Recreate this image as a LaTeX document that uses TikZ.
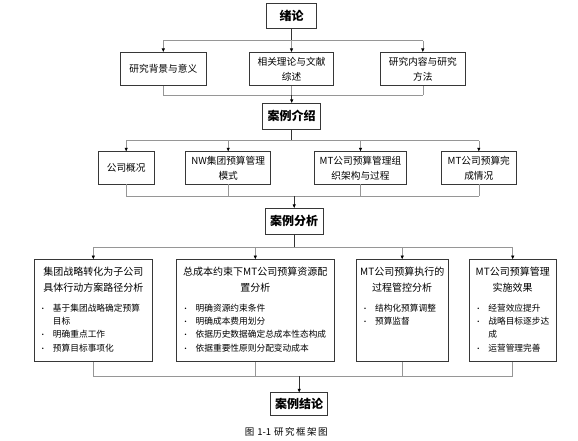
\documentclass[tikz,border=0pt]{standalone}
\usepackage{fontspec}
\setmainfont{Noto Sans CJK SC}
\definecolor{linegray}{RGB}{150,150,150}
\definecolor{boxline}{RGB}{55,55,55}
\usepackage{tikz}
\usetikzlibrary{arrows.meta, calc}

\newcommand{\boxhead}[1]{{\centering\fontsize{10}{15.6}\selectfont #1\par}\vspace{6.5pt}}
\newcommand{\bitem}[1]{{\fontsize{8.7}{13.3}\selectfont\hangindent=15pt\hangafter=1\noindent\makebox[15pt][l]{\hspace{1.5pt}\fontsize{7}{7}\selectfont\textbullet}#1\par}}
\newcommand{\bigtext}[2]{\parbox[t][94pt][t]{#1}{\parskip=0pt\vspace*{4pt}#2}}

\tikzset{
  headbox/.style={draw=boxline, line width=0.8pt, fill=white, inner sep=0pt, minimum height=25.7pt,
    font=\fontsize{12}{14}\selectfont\bfseries},
  subbox/.style={draw=boxline, line width=0.7pt, fill=white, inner sep=0pt, align=center,
    minimum height=33.4pt, font=\fontsize{9.7}{15}\selectfont},
  bigbox/.style={draw=boxline, line width=0.7pt, fill=white, inner sep=4pt},
  busline/.style={draw=linegray, line width=0.6pt},
  stemline/.style={draw=black!80, line width=0.6pt},
  arr/.style={-{Triangle[length=3.5pt, width=3pt, color=black]}},
}

\begin{document}
\begin{tikzpicture}[x=1pt, y=-1pt]
  \useasboundingbox (0,0) rectangle (578,440);

  \coordinate (busA) at (0,40.7);
  \coordinate (busB) at (0,95);
  \coordinate (busC) at (0,140.7);
  \coordinate (busD) at (0,196);
  \coordinate (busE) at (0,247.7);
  \coordinate (busF) at (0,376);

  \node[headbox, minimum width=49.6pt, minimum height=25pt] (intro) at (291.5,15.8) {绪论};
  \node[subbox, minimum width=85.3pt] (bg) at (163.3,69) {研究背景与意义};
  \node[subbox, minimum width=84.4pt] (lit) at (291.5,69) {相关理论与文献\\综述};
  \node[subbox, minimum width=85pt] (meth) at (422.8,69) {研究内容与研究\\方法};

  \node[headbox, minimum width=58pt] (case) at (291.7,116.2) {案例介绍};
  \node[subbox, minimum width=55.7pt, minimum height=32.3pt] (prof) at (126.2,167.8) {公司概况};
  \node[subbox, minimum width=85pt, minimum height=32.3pt] (mode) at (228.2,167.8) {NW集团预算管理\\模式};
  \node[subbox, minimum width=91.6pt, minimum height=32.3pt] (org) at (360.5,167.8) {MT公司预算管理组\\织架构与过程};
  \node[subbox, minimum width=75pt, minimum height=32.3pt] (done) at (478.8,167.8) {MT公司预算完\\成情况};

  \node[headbox, minimum width=58.3pt] (analysis) at (294.2,221.2) {案例分析};
  \node[bigbox] (path) at (93.3,310.5) {\bigtext{110.7pt}{
    \boxhead{集团战略转化为子公司\\具体行动方案路径分析}
    \bitem{基于集团战略确定预算\newline 目标}
    \bitem{明确重点工作}
    \bitem{预算目标事项化}}};
  \node[bigbox] (alloc) at (255.3,310.5) {\bigtext{149.3pt}{
    \boxhead{总成本约束下MT公司预算资源配\\置分析}
    \bitem{明确资源约束条件}
    \bitem{明确成本费用划分}
    \bitem{依据历史数据确定总成本性态构成}
    \bitem{依据重要性原则分配变动成本}}};
  \node[bigbox] (ctrl) at (402.2,310.5) {\bigtext{84.3pt}{
    \boxhead{MT公司预算执行的\\过程管控分析}
    \bitem{结构化预算调整}
    \bitem{预算监督}}};
  \node[bigbox] (effect) at (512.7,310.5) {\bigtext{78.7pt}{
    \boxhead{MT公司预算管理\\实施效果}
    \bitem{经营效应提升}
    \bitem{战略目标逐步达\newline 成}
    \bitem{运营管理完善}}};

  \node[headbox, minimum width=57pt, minimum height=22.3pt] (concl) at (299.2,403.9) {案例结论};
  \node[font=\fontsize{9.5}{11}\selectfont] (cap) at (286.2,431.7)
    {图\hspace{3pt}1-1\hspace{3pt}研\hspace{1.5pt}究\hspace{1.5pt}框\hspace{1.5pt}架\hspace{1.5pt}图};

  \draw[stemline] (intro.south) -- (intro.south |- busA);
  \draw[busline] (bg.north |- busA) -- (meth.north |- busA);
  \foreach \n in {bg,lit,meth} {
    \draw[busline, arr] (\n.north |- busA) -- (\n.north);
    \draw[busline] (\n.south) -- (\n.south |- busB);
  }
  \draw[busline] (bg.south |- busB) -- (meth.south |- busB);
  \draw[stemline, arr] (case.north |- busB) -- (case.north);

  \draw[stemline] (case.south) -- (case.south |- busC);
  \draw[busline] (prof.north |- busC) -- (done.north |- busC);
  \foreach \n in {prof,mode,org,done} {
    \draw[busline, arr] (\n.north |- busC) -- (\n.north);
    \draw[busline] (\n.south) -- (\n.south |- busD);
  }
  \draw[busline] (prof.south |- busD) -- (done.south |- busD);
  \draw[stemline, arr] (analysis.north |- busD) -- (analysis.north);

  \draw[stemline] (analysis.south) -- (analysis.south |- busE);
  \draw[busline] (path.north |- busE) -- (effect.north |- busE);
  \foreach \n in {path,alloc,ctrl,effect} {
    \draw[busline, arr] (\n.north |- busE) -- (\n.north);
    \draw[busline] (\n.south) -- (\n.south |- busF);
  }
  \draw[busline] (path.south |- busF) -- (effect.south |- busF);
  \draw[stemline, arr] (concl.north |- busF) -- (concl.north);
\end{tikzpicture}
\end{document}
